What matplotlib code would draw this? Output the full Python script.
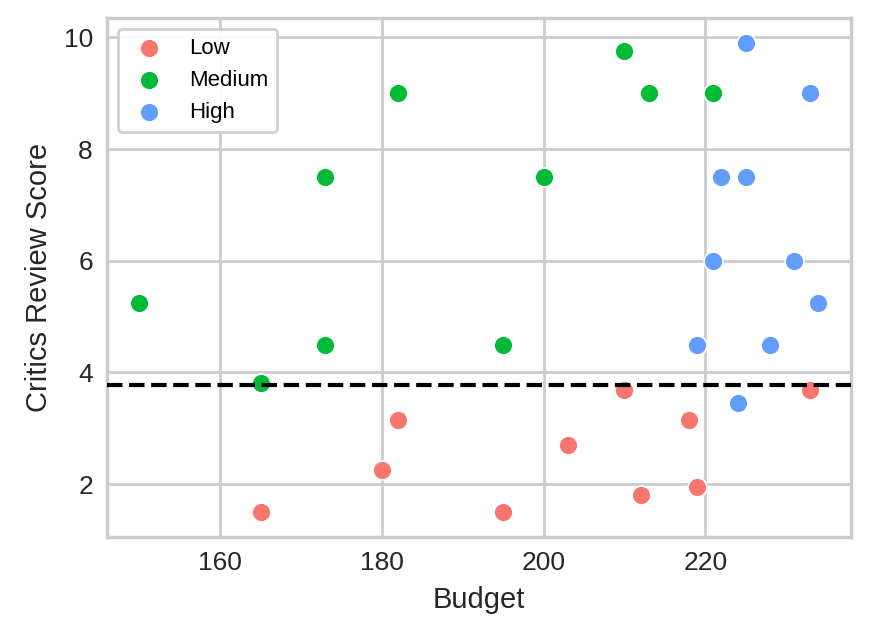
import matplotlib
matplotlib.use("Agg")
import matplotlib.pyplot as plt

plt.rcParams.update({
    "font.family": ["Liberation Sans", "DejaVu Sans"],
    "axes.edgecolor": "#cccccc",
    "axes.grid": True,
    "grid.color": "#cccccc",
    "axes.linewidth": 1.25,
    "grid.linewidth": 1.0,
    "xtick.color": "#262626",
    "ytick.color": "#262626",
    "axes.labelcolor": "#262626",
    "font.size": 11,
})

groups = {
    "Low": ("#F8766D", [(165, 1.5), (180, 2.25), (182, 3.15), (195, 1.5), (203, 2.7),
                        (210, 3.68), (212, 1.8), (218, 3.15), (219, 1.95), (233, 3.68)]),
    "Medium": ("#00BA38", [(150, 5.25), (165, 3.82), (173, 7.5), (173, 4.5), (182, 9.0),
                           (195, 4.5), (200, 7.5), (210, 9.75), (213, 9.0), (221, 9.0)]),
    "High": ("#619CFF", [(225, 9.9), (233, 9.0), (222, 7.5), (225, 7.5), (221, 6.0),
                         (231, 6.0), (234, 5.25), (219, 4.5), (228, 4.5), (224, 3.45)]),
}

fig = plt.figure(figsize=(4.345, 3.19), dpi=200)
ax = fig.add_axes([0.123, 0.158, 0.856, 0.814])
for name, (color, pts) in groups.items():
    xs, ys = zip(*pts)
    ax.scatter(xs, ys, s=46, color=color, edgecolor="white", linewidth=0.6, label=name, zorder=3)
ax.axhline(3.77, color="black", linestyle="--", linewidth=1.5, zorder=4)
ax.set_xlim(146, 238)
ax.set_ylim(1.05, 10.35)
ax.set_xticks([160, 180, 200, 220])
ax.set_yticks([2, 4, 6, 8, 10])
ax.tick_params(length=0, labelsize=9.5, pad=5)
ax.set_xlabel("Budget", fontsize=10.5)
ax.set_ylabel("Critics Review Score", fontsize=10.5)
ax.legend(loc="upper left", fontsize=8, markerscale=1.0, framealpha=0.9)
fig.savefig("out.png", dpi=200)
plt.close()
